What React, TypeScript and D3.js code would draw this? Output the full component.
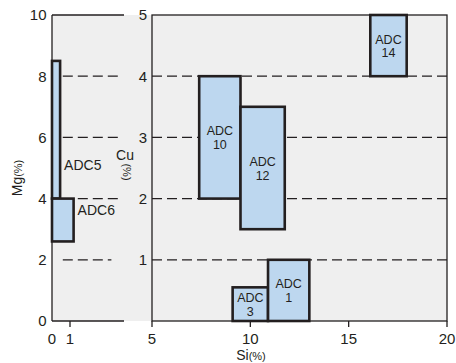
import React from "react";
import * as d3 from "d3";

// ---- data ----
const mgTicks = [0, 2, 4, 6, 8, 10];
const mgGrid = [8, 6, 4, 2];
const cuTicks = [1, 2, 3, 4, 5];
const cuGrid = [1, 2, 3, 4];
const siLeftTicks = [0, 1];
const siRightTicks = [5, 10, 15, 20];

// left panel boxes: Si range, Mg range
const leftNames = ["ADC5", "ADC6"];
const leftSi = [[0, 0.45], [0, 1.2]];
const leftMg = [[4.0, 8.5], [2.6, 4.0]];

// right panel boxes: Si range, Cu range
const rightNames = ["10", "12", "14", "3", "1"];
const rightSi = [[7.4, 9.5], [9.5, 11.75], [16.1, 17.95], [9.1, 10.9], [10.9, 13.0]];
const rightCu = [[2.0, 4.0], [1.5, 3.5], [4.0, 5.0], [0, 0.55], [0, 1.0]];

const INK = "#231f20";
const FILL = "#bdd7ef";
const BG = "#efefef";
const FONT = "'Liberation Sans', Arial, Helvetica, sans-serif";

export default function App() {
  const yMg = d3.scaleLinear().domain([0, 10]).range([321, 15]);
  const xL = d3.scaleLinear().domain([0, 4]).range([52, 124]);
  const yCu = d3.scaleLinear().domain([0, 5]).range([321, 15]);
  const xSi = d3.scaleLinear().domain([5, 20]).range([152, 447]);

  const dash = "10,5";

  return (
    <svg width={456} height={363} style={{ position: "absolute", left: 0, top: 0 }} fontFamily={FONT}>
      {/* background */}
      <rect x={xL(0)} y={yMg(10)} width={xSi(20) - xL(0)} height={yMg(0) - yMg(10)} fill={BG} />

      {/* left dashed grid */}
      {mgGrid.map((v) => (
        <line key={"lg" + v} x1={xL(0.6)} x2={xL(v === 2 ? 3.3 : 3.72)} y1={yMg(v)} y2={yMg(v)}
          stroke={INK} strokeWidth={1.2} strokeDasharray={dash} />
      ))}
      {/* right dashed grid */}
      {cuGrid.map((v) => (
        <line key={"rg" + v} x1={xSi(5)} x2={xSi(20)} y1={yCu(v)} y2={yCu(v)}
          stroke={INK} strokeWidth={1.2} strokeDasharray={dash} />
      ))}

      {/* left boxes */}
      {leftNames.map((n, i) => (
        <rect key={n} x={xL(leftSi[i][0])} y={yMg(leftMg[i][1])}
          width={xL(leftSi[i][1]) - xL(leftSi[i][0])} height={yMg(leftMg[i][0]) - yMg(leftMg[i][1])}
          fill={FILL} stroke={INK} strokeWidth={2.6} />
      ))}
      {/* right boxes */}
      {rightNames.map((n, i) => {
        const x0 = xSi(rightSi[i][0]);
        const x1 = xSi(rightSi[i][1]);
        const y0 = yCu(rightCu[i][1]);
        const y1 = yCu(rightCu[i][0]);
        return <rect key={n} x={x0} y={y0} width={x1 - x0} height={y1 - y0} fill={FILL} stroke={INK} strokeWidth={2.6} />;
      })}
      {rightNames.map((n, i) => {
        const cx = (xSi(rightSi[i][0]) + xSi(rightSi[i][1])) / 2;
        const cy = (yCu(rightCu[i][0]) + yCu(rightCu[i][1])) / 2;
        return (
          <g key={"t" + n} fontSize={12.5} fill={INK} textAnchor="middle">
            <text x={cx} y={cy - 2}>ADC</text>
            <text x={cx} y={cy + 11.5}>{n}</text>
          </g>
        );
      })}

      {/* axes */}
      <line x1={xL(0)} x2={xL(0)} y1={yMg(10)} y2={yMg(0)} stroke={INK} strokeWidth={1.3} />
      <line x1={xL(0)} x2={xL(4)} y1={yMg(10)} y2={yMg(10)} stroke={INK} strokeWidth={1.3} />
      <line x1={xL(0)} x2={xL(4)} y1={yMg(0)} y2={yMg(0)} stroke={INK} strokeWidth={1.3} />
      {siLeftTicks.filter((t) => t > 0).map((t) => (
        <line key={"lt" + t} x1={xL(t)} x2={xL(t)} y1={yMg(0)} y2={yMg(0) + 6} stroke={INK} strokeWidth={1.3} />
      ))}
      <rect x={xSi(5)} y={yCu(5)} width={xSi(20) - xSi(5)} height={yCu(0) - yCu(5)} fill="none" stroke={INK} strokeWidth={1.3} />
      {siRightTicks.map((t) => (
        <line key={"rt" + t} x1={xSi(t)} x2={xSi(t)} y1={yCu(0)} y2={yCu(0) + 6} stroke={INK} strokeWidth={1.3} />
      ))}

      {/* tick labels */}
      {mgTicks.map((t) => (
        <text key={"ml" + t} x={46.5} y={yMg(t)} dy="0.36em" textAnchor="end" fontSize={15} fill={INK}>{t}</text>
      ))}
      {cuTicks.map((t) => (
        <text key={"cl" + t} x={147} y={yCu(t)} dy="0.36em" textAnchor="end" fontSize={15} fill={INK}>{t}</text>
      ))}
      {siLeftTicks.map((t) => (
        <text key={"sl" + t} x={xL(t)} y={344} textAnchor="middle" fontSize={15} fill={INK}>{t}</text>
      ))}
      {siRightTicks.map((t) => (
        <text key={"sr" + t} x={xSi(t)} y={344} textAnchor="middle" fontSize={15} fill={INK}>{t}</text>
      ))}

      {/* left box labels */}
      <text x={xL(leftSi[0][1]) + 4} y={yMg(5.1)} dy="0.36em" fontSize={14} fill={INK}>{leftNames[0]}</text>
      <text x={xL(leftSi[1][1]) + 4} y={yMg(3.62)} dy="0.36em" fontSize={14} fill={INK}>{leftNames[1]}</text>

      {/* axis titles */}
      <text transform="translate(22,178) rotate(-90)" textAnchor="middle" fill={INK}>
        <tspan fontSize={14}>Mg</tspan><tspan fontSize={11}>(%)</tspan>
      </text>
      <text x={125} y={160} textAnchor="middle" fontSize={14} fill={INK}>Cu</text>
      <text transform="translate(127,172) rotate(90)" textAnchor="middle" dy="0.36em" fontSize={11} fill={INK}>(%)</text>
      <text x={251} y={360} textAnchor="middle" fill={INK}>
        <tspan fontSize={14}>Si</tspan><tspan fontSize={11}>(%)</tspan>
      </text>
    </svg>
  );
}
